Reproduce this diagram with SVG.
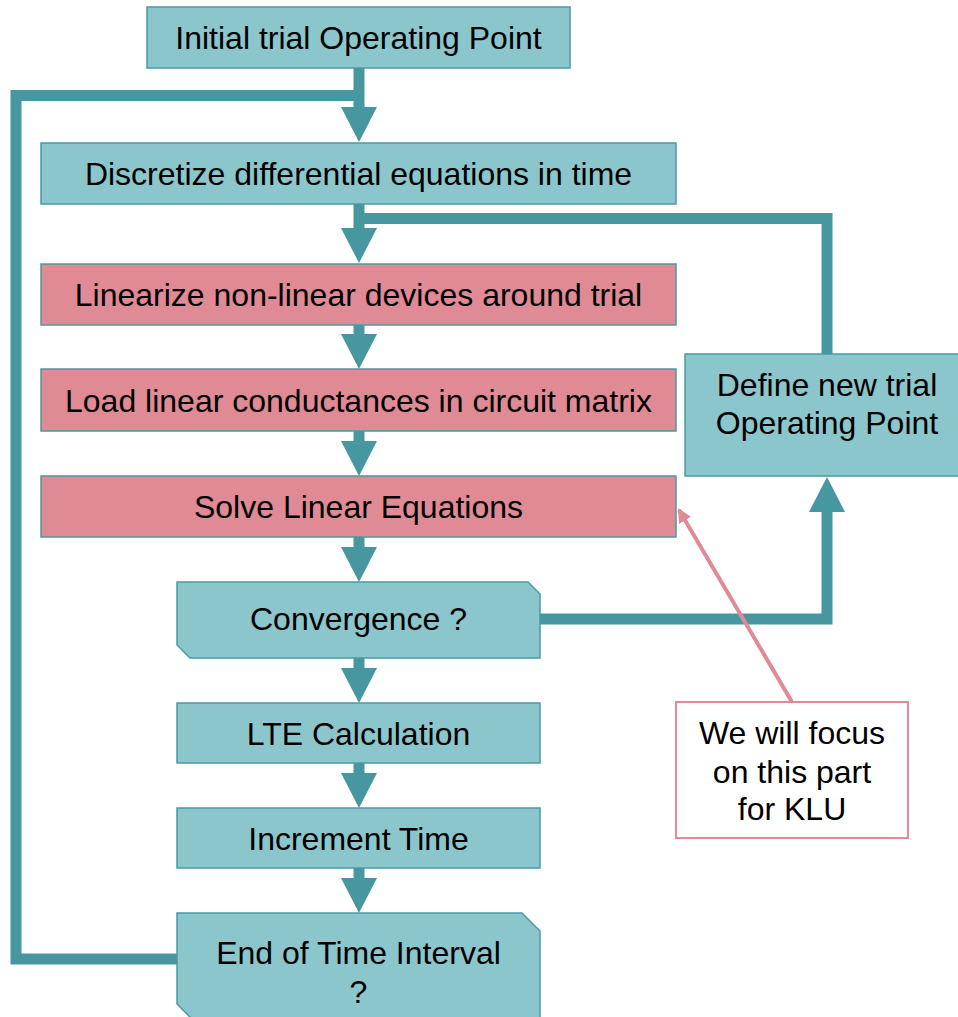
<svg xmlns="http://www.w3.org/2000/svg" width="958" height="1017" viewBox="0 0 958 1017">
<style>
.t{fill:#8BC6CD;stroke:#4A9BA2;stroke-width:1.5}
.p{fill:#E08A95;stroke:#4A9BA2;stroke-width:1.5}
.n{fill:#FFFFFF;stroke:#E08A95;stroke-width:2}
.c{fill:none;stroke:#46979F;stroke-width:11;stroke-linejoin:miter}
.h{fill:#46979F}
text{font-family:"Liberation Sans",Arial,sans-serif;font-size:32px;fill:#000;text-anchor:middle}
</style>
<defs>
<marker id="pa" markerWidth="14" markerHeight="14" refX="12" refY="7" orient="auto" markerUnits="userSpaceOnUse" viewBox="0 0 14 14">
<path d="M0,0 L14,7 L0,14 Z" fill="#E08A95"/>
</marker>
</defs>
<g id="connectors">
<path class="c" d="M359 68 V108"/>
<path class="c" d="M177 959 H16 V95.5 H364"/>
<polygon class="h" points="341,107 377,107 359,142"/>
<path class="c" d="M359 204 V229"/>
<path class="c" d="M827 354 V218.5 H354"/>
<polygon class="h" points="341,228 377,228 359,263"/>
<path class="c" d="M359 325 V335"/>
<polygon class="h" points="341,334 377,334 359,369"/>
<path class="c" d="M359 431 V442"/>
<polygon class="h" points="341,441 377,441 359,476"/>
<path class="c" d="M359 537 V548"/>
<polygon class="h" points="341,547 377,547 359,582"/>
<path class="c" d="M540 619 H827 V511"/>
<polygon class="h" points="809,512 845,512 827,477"/>
<path class="c" d="M359 658 V669"/>
<polygon class="h" points="341,668 377,668 359,703"/>
<path class="c" d="M359 763 V774"/>
<polygon class="h" points="341,773 377,773 359,808"/>
<path class="c" d="M359 868 V879"/>
<polygon class="h" points="341,878 377,878 359,913"/>
<line x1="792" y1="702" x2="679" y2="510" stroke="#E08A95" stroke-width="4" marker-end="url(#pa)"/>
</g>
<g id="initial">
<rect class="t" x="147" y="7" width="423" height="61"/>
<text x="358.5" y="49">Initial trial Operating Point</text>
</g>
<g id="discretize">
<rect class="t" x="41" y="143" width="635" height="61"/>
<text x="358.5" y="185">Discretize differential equations in time</text>
</g>
<g id="linearize">
<rect class="p" x="41" y="264" width="635" height="61"/>
<text x="358.5" y="306">Linearize non-linear devices around trial</text>
</g>
<g id="load">
<rect class="p" x="41" y="369" width="635" height="62"/>
<text x="358.5" y="412">Load linear conductances in circuit matrix</text>
</g>
<g id="solve">
<rect class="p" x="41" y="476" width="635" height="61"/>
<text x="358.5" y="518">Solve Linear Equations</text>
</g>
<g id="convergence">
<path class="t" d="M177 582 H528 L540 594 V658 H190 L177 645 Z"/>
<text x="358.5" y="630">Convergence ?</text>
</g>
<g id="lte">
<rect class="t" x="177" y="703" width="363" height="60"/>
<text x="358.5" y="745">LTE Calculation</text>
</g>
<g id="increment">
<rect class="t" x="177" y="808" width="363" height="60"/>
<text x="358.5" y="850">Increment Time</text>
</g>
<g id="end">
<path class="t" d="M177 913 H522 L540 931 V1022 H195 L177 1004 Z"/>
<text x="358.5" y="964">End of Time Interval</text>
<text x="358.5" y="1003">?</text>
</g>
<g id="define">
<rect class="t" x="685" y="354" width="280" height="122"/>
<text x="827" y="396">Define new trial</text>
<text x="827" y="434">Operating Point</text>
</g>
<g id="note">
<rect class="n" x="676" y="702" width="232" height="136"/>
<text x="792" y="744">We will focus</text>
<text x="792" y="783">on this part</text>
<text x="792" y="820">for KLU</text>
</g>
</svg>
